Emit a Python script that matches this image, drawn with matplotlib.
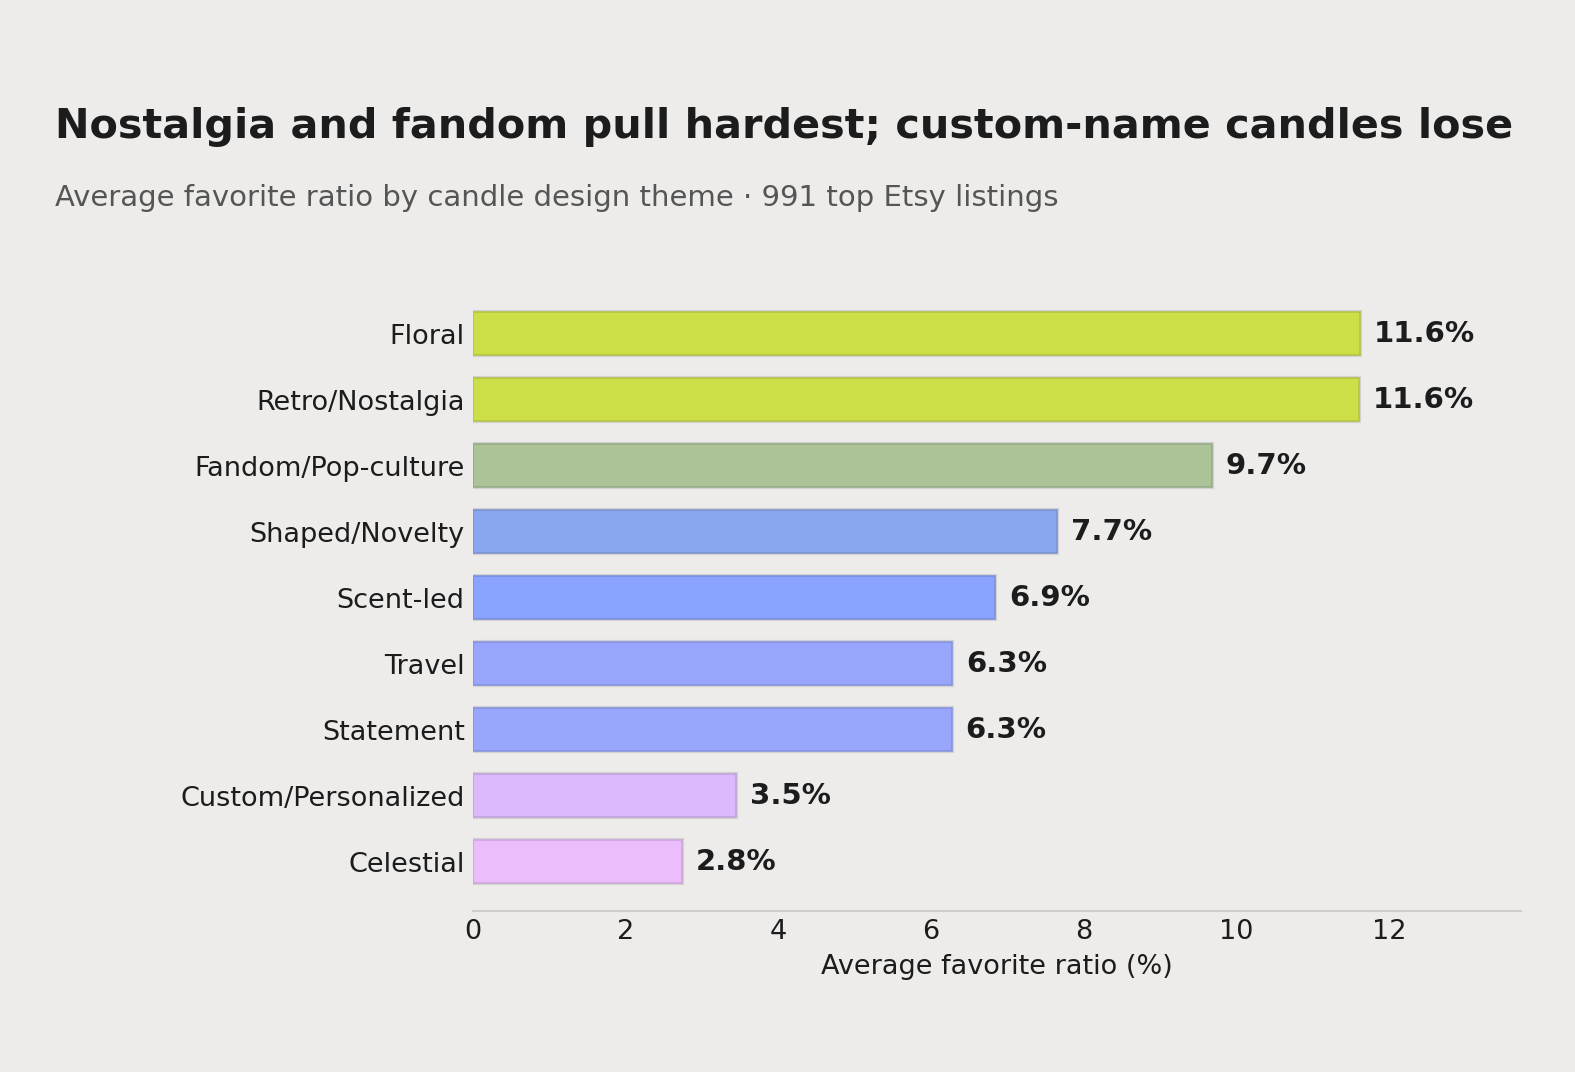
import matplotlib
matplotlib.use("Agg")
import matplotlib.pyplot as plt
import matplotlib.patheffects as pe
from matplotlib.colors import to_rgb

categories = ["Floral", "Retro/Nostalgia", "Fandom/Pop-culture", "Shaped/Novelty",
              "Scent-led", "Travel", "Statement", "Custom/Personalized", "Celestial"]
values = [11.62, 11.61, 9.68, 7.65, 6.84, 6.28, 6.27, 3.45, 2.74]
labels = ["11.6%", "11.6%", "9.7%", "7.7%", "6.9%", "6.3%", "6.3%", "3.5%", "2.8%"]
colors = ["#CDDF47", "#CDDF47", "#ABC396", "#89A6EE", "#89A3FE",
          "#98A6FE", "#98A6FE", "#DDB9FB", "#ECBDFC"]
xticks = [0, 2, 4, 6, 8, 10, 12]

BG = "#EDECEA"
TXT = "#1C1C1C"

fig = plt.figure(figsize=(15.75, 10.72), dpi=100, facecolor=BG)
W, H = 1575, 1072
L, R, B, T = 473, 1521, 911, 284
ax = fig.add_axes([L / W, 1 - B / H, (R - L) / W, (B - T) / H], facecolor=BG)

ypos = list(range(len(categories)))[::-1]
for y, v, c, lab in zip(ypos, values, colors, labels):
    r, g, b = to_rgb(c)
    edge = (r * 0.87, g * 0.87, b * 0.87)
    bar = ax.barh(y, v, height=0.65, color=c, edgecolor=edge, linewidth=1.1, zorder=3)
    for p in bar.patches:
        p.set_path_effects([pe.Stroke(linewidth=3.0, foreground="#D2D2D2"), pe.Normal()])
    ax.text(v + 0.18, y, lab, va="center", ha="left", fontsize=21, fontweight="bold", color=TXT)

ax.set_xlim(0, 13.73)
ax.set_ylim(-0.75, len(categories) - 0.25)
ax.set_yticks(ypos)
ax.set_yticklabels(categories, fontsize=19.5, color=TXT)
ax.set_xticks(xticks)
ax.set_xticklabels([str(t) for t in xticks], fontsize=19.5, color=TXT)
ax.tick_params(axis="both", length=0)
ax.tick_params(axis="x", pad=5.5)
ax.tick_params(axis="y", pad=6)
for s in ["top", "right", "left"]:
    ax.spines[s].set_visible(False)
ax.spines["bottom"].set_color("#CCCCCC")
ax.spines["bottom"].set_linewidth(1.5)
ax.set_xlabel("Average favorite ratio (%)", fontsize=19.5, color=TXT, labelpad=7)

fig.text(55 / W, 1 - 138 / H, "Nostalgia and fandom pull hardest; custom-name candles lose",
         fontsize=29.8, fontweight="bold", color=TXT, ha="left", va="baseline")
fig.text(55 / W, 1 - 206 / H, "Average favorite ratio by candle design theme · 991 top Etsy listings",
         fontsize=21, color="#555555", ha="left", va="baseline")

fig.savefig("out.png", dpi=100, facecolor=BG)
